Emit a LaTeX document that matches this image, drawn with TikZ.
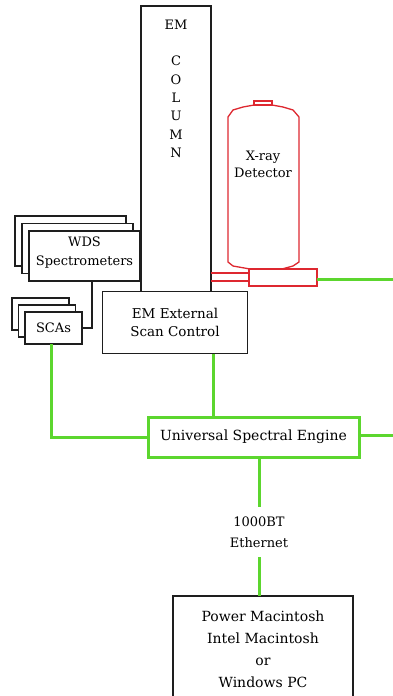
\documentclass[tikz,border=0pt]{standalone}
\usepackage{fontspec}
\setmainfont{DejaVu Serif}
\usetikzlibrary{calc}
\definecolor{lgreen}{RGB}{92,214,46}
\definecolor{dred}{RGB}{222,40,48}
\definecolor{boxgray}{RGB}{30,30,30}
\begin{document}
\begin{tikzpicture}[x=1pt,y=-1pt,
  every node/.style={inner sep=0pt, outer sep=0pt},
  mainfont/.style={font=\fontsize{13}{17}\selectfont},
  blackbox/.style={draw=boxgray, line width=1.4pt, fill=white, align=center, mainfont},
  greenbox/.style={draw=lgreen, line width=3pt, fill=white, align=center, mainfont},
  redbox/.style={draw=dred, line width=1.3pt, fill=white},
  blackline/.style={draw=boxgray, line width=1.4pt},
  greenline/.style={draw=lgreen, line width=3pt},
  redline/.style={draw=dred, line width=1.3pt},
  txt/.style={align=center, mainfont}
]
\clip (0,0) rectangle (393,696);
\fill[white] (0,0) rectangle (393,696);

% EM column
\node[blackbox, minimum width=70, minimum height=286] (col) at (176,149) {};
\node[txt] (colEM) at (176,25) {EM};
\node[txt, font=\fontsize{13}{18.4}\selectfont] (colLetters) at (176,107) {C\\O\\L\\U\\M\\N};

% WDS spectrometers stack
\node[blackbox, minimum width=111, minimum height=50] (wds3) at (70.5,241) {};
\node[blackbox, minimum width=111, minimum height=50] (wds2) at (77.5,248.5) {};
\node[blackbox, minimum width=111, minimum height=50] (wds1) at (84.5,256) {};
\node[txt, font=\fontsize{13}{19}\selectfont] (wdstext) at (84.5,252.5) {WDS\\Spectrometers};

% SCAs stack
\node[blackbox, minimum width=57, minimum height=32] (scas3) at (40.5,314) {};
\node[blackbox, minimum width=57, minimum height=32] (scas2) at (47,321) {};
\node[blackbox, minimum width=57, minimum height=32] (scas1) at (53.5,328) {SCAs};

% EM external scan control
\node[blackbox, minimum width=145, minimum height=62, font=\fontsize{13.5}{18}\selectfont] (scan) at (175,322.5) {EM External\\Scan Control};

% X-ray detector
\draw[redline, fill=white] (228,117) -- (233,110) -- (243,107) -- (254,105) -- (272,105) -- (283,107) -- (293,110) -- (299,117)
  -- (299,262) -- (293,266) -- (282,269) -- (250,269) -- (233,266) -- (228,262) -- cycle;
\draw[redline, fill=white] (254,101) rectangle (272,105);
\node[txt, font=\fontsize{13}{17}\selectfont] (xraytext) at (263,164.5) {X-ray\\Detector};
\node[redbox, minimum width=68, minimum height=17] (base) at (283,277.5) {};
\draw[redline] ([yshift=4.5pt]base.west) -- ([yshift=4.5pt]base.west -| col.east);
\draw[redline] ([yshift=-3.5pt]base.west) -- ([yshift=-3.5pt]base.west -| col.east);
\coordinate (rightB) at (400,279);
\draw[greenline] ([yshift=-1.5pt]base.east) -- ([yshift=-1.5pt]base.east -| rightB);

% Universal Spectral Engine
\node[greenbox, minimum width=211, minimum height=40, font=\fontsize{14}{17}\selectfont] (use) at (253.5,437) {Universal Spectral Engine};

% Ethernet label
\node[txt, minimum height=50, font=\fontsize{13}{21}\selectfont] (eth) at (259,532) {1000BT\\Ethernet};

% Computer
\node[blackbox, minimum width=180, minimum height=120] (pc) at (263,656) {};
\node[txt, font=\fontsize{14}{22}\selectfont] (pctext) at (263,649) {Power Macintosh\\Intel Macintosh\\or\\Windows PC};

% connectors
\draw[blackline] ([xshift=7.5pt]wds1.south) |- (scas1.east);
\draw[greenline] ([xshift=-2pt]scas1.south) |- (use.west);
\draw[greenline] ([xshift=38pt]scan.south) -- ([xshift=38pt]scan.south |- use.north);
\coordinate (rightA) at (400,435);
\draw[greenline] ([yshift=2pt]use.east) -- ([yshift=2pt]use.east -| rightA);
\draw[greenline] ([xshift=5.5pt]use.south) -- (eth.north);
\draw[greenline] (eth.south) -- (eth.south |- pc.north);
\end{tikzpicture}
\end{document}
